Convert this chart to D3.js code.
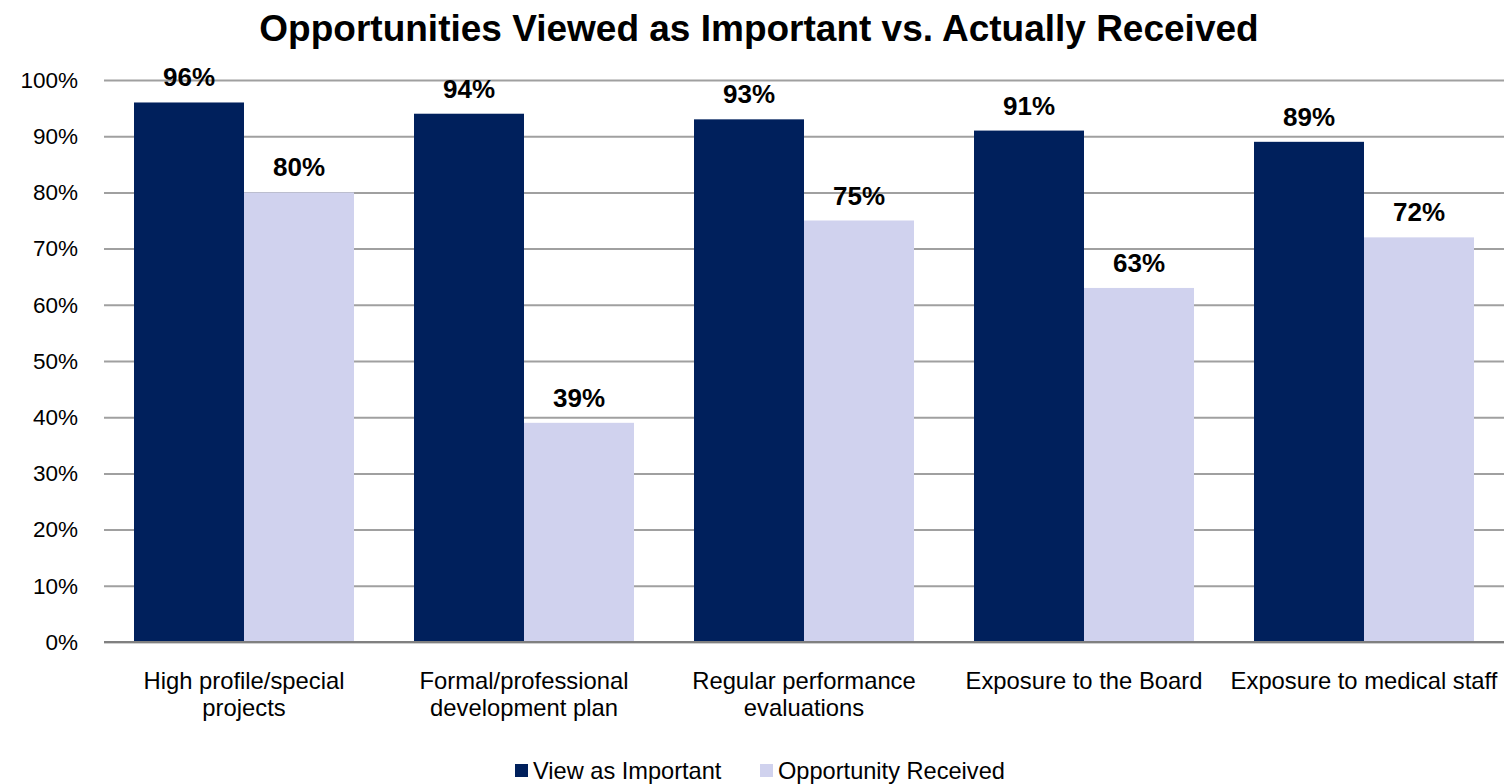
<!DOCTYPE html>
<html><head><meta charset="utf-8">
<script src="https://cdn.jsdelivr.net/npm/d3@7"></script>
<style>body{margin:0;background:#fff;} svg{display:block;font-family:Arial,"Liberation Sans",sans-serif;}</style>
</head><body>
<svg id="c" width="1504" height="784"></svg>
<script>
const categories = [["High profile/special","projects"],["Formal/professional","development plan"],["Regular performance","evaluations"],["Exposure to the Board"],["Exposure to medical staff"]];
const seriesNames = ["View as Important","Opportunity Received"];
const important = [96,94,93,91,89];
const received = [80,39,75,63,72];
const yTicks = [0,10,20,30,40,50,60,70,80,90,100];
const colors = ["#00205c","#d0d2ee"];

(function(){
const svg = d3.select("#c");
const pL=104, pR=1504, pT=80, pB=642;
const x0 = d3.scaleBand().domain(d3.range(categories.length)).range([pL,pR]).paddingInner(0).paddingOuter(0);
const x1 = d3.scaleBand().domain([0,1]).range([0,x0.bandwidth()]).paddingOuter(30/110).paddingInner(0);
const y = d3.scaleLinear().domain([0,100]).range([pB,pT]);

svg.append("text").attr("x",759).attr("y",41).attr("text-anchor","middle").attr("font-size",37).attr("font-weight","bold").text("Opportunities Viewed as Important vs. Actually Received");

const yAxis = svg.append("g").attr("transform",`translate(${pL},0)`)
  .call(d3.axisLeft(y).tickValues(yTicks).tickFormat(d=>d+"%").tickSize(-(pR-pL)).tickPadding(26));
yAxis.select(".domain").remove();
yAxis.selectAll(".tick line").attr("stroke","#a0a0a0").attr("stroke-width",2);
yAxis.selectAll(".tick text").attr("font-size",22.5).attr("fill","#000").attr("font-family","Arial,'Liberation Sans',sans-serif");

const series=[important,received];
series.forEach((vals,s)=>{
  const g=svg.append("g");
  g.selectAll("rect").data(vals).join("rect")
    .attr("x",(d,i)=>x0(i)+x1(s)).attr("width",x1.bandwidth())
    .attr("y",d=>y(d)).attr("height",d=>pB-y(d)).attr("fill",colors[s]);
  g.selectAll("text").data(vals).join("text")
    .attr("x",(d,i)=>x0(i)+x1(s)+x1.bandwidth()/2).attr("y",d=>y(d)-16)
    .attr("text-anchor","middle").attr("font-size",26).attr("font-weight","bold").text(d=>d+"%");
});

svg.append("line").attr("x1",pL).attr("x2",pR).attr("y1",y(0)).attr("y2",y(0)).attr("stroke","#808080").attr("stroke-width",2);

const cg=svg.append("g");
categories.forEach((lines,i)=>{
  const cx=x0(i)+x0.bandwidth()/2;
  const t=cg.append("text").attr("x",cx).attr("y",689).attr("text-anchor","middle").attr("font-size",23.8);
  lines.forEach((l,j)=>t.append("tspan").attr("x",cx).attr("dy",j?27:0).text(l));
});

const leg=svg.append("g");
const legX=[515,760];
seriesNames.forEach((n,s)=>{
  leg.append("rect").attr("x",legX[s]).attr("y",764).attr("width",13).attr("height",13).attr("fill",colors[s]);
  leg.append("text").attr("x",legX[s]+18).attr("y",779).attr("font-size",23.6).text(n);
});
})();
</script>
</body></html>
